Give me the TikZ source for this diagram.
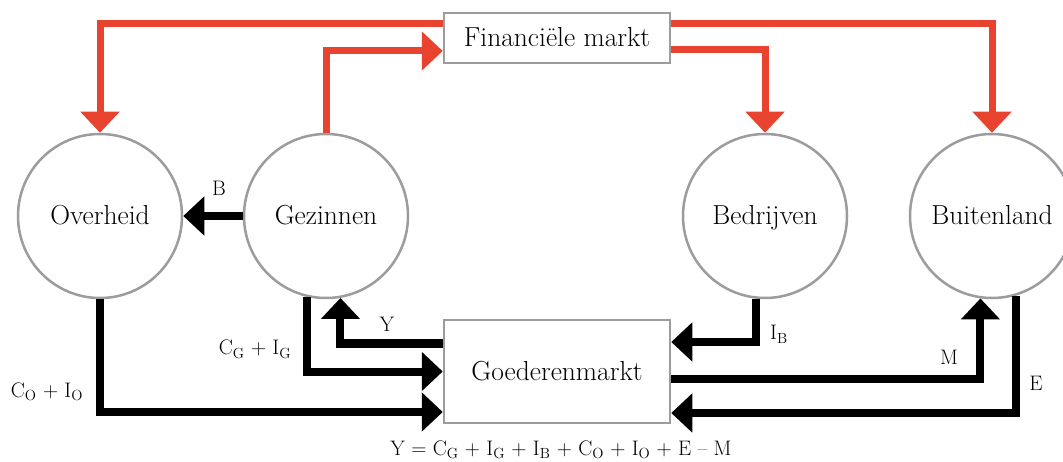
\documentclass[tikz,border=0pt]{standalone}
\usetikzlibrary{arrows.meta}
\definecolor{flowred}{RGB}{232,67,47}
\definecolor{rimgray}{RGB}{155,155,160}
\begin{document}
\begin{tikzpicture}[x=1pt,y=-1pt,
  sector/.style={circle,draw=rimgray,line width=2.5pt,minimum size=164pt,
    font=\fontsize{27.5}{30}\selectfont,text height=17pt,text depth=0pt},
  market/.style={rectangle,draw=rimgray,line width=2.5pt,fill=white,
    font=\fontsize{27.5}{30}\selectfont,text height=17pt,text depth=0pt},
  money/.style={draw=flowred,line width=7pt,-{Triangle[length=21pt,width=38pt]}},
  goods/.style={draw=black,line width=8pt,-{Triangle[length=21pt,width=38pt]}},
  lbl/.style={font=\fontsize{21}{24}\selectfont,anchor=base}]
\useasboundingbox (0,0) rectangle (1063,462);

% sectors
\node[sector] (ov) at (100,216) {Overheid};
\node[sector] (gz) at (326,216) {Gezinnen};
\node[sector] (bd) at (765,216) {Bedrijven};
\node[sector] (bl) at (992,216) {Buitenland};

% markets
\node[market,minimum width=226pt,minimum height=50pt] (fm) at (557,38) {Financi\"ele markt};
\node[market,minimum width=226pt,minimum height=103pt] (gm) at (557,371.5) {Goederenmarkt};

% money flows via the financial market
\draw[money] ([yshift=14.5pt]fm.west) -| (ov.north);
\draw[money] (gz.north) |- ([yshift=-13pt]fm.west);
\draw[money] ([yshift=-11.5pt]fm.east) -| (bd.north);
\draw[money] ([yshift=14.5pt]fm.east) -| (bl.north);

% goods flows
\draw[goods] (gz.west) -- (ov.east);
\draw[goods] (ov.south) |- ([yshift=-40.5pt]gm.west);
\draw[goods] (gz.257) |- (gm.west);
\draw[goods] ([yshift=28pt]gm.west) -| (gz.280);
\draw[goods] (bd.264) |- ([yshift=29.5pt]gm.east);
\draw[goods] ([yshift=-7.5pt]gm.east) -| (bl.262);
\draw[goods] (bl.287) |- ([yshift=-41.5pt]gm.east);

% flow labels
\node[lbl] (lb) at (219,196) {B};
\node[lbl] (lco) at (47,397) {C\textsubscript{O} + I\textsubscript{O}};
\node[lbl] (lcg) at (255,355) {C\textsubscript{G} + I\textsubscript{G}};
\node[lbl] (ly) at (387,331) {Y};
\node[lbl] (lib) at (779,340) {I\textsubscript{B}};
\node[lbl] (lm) at (949,364) {M};
\node[lbl] (le) at (1036,390) {E};
\node[lbl] (lf) at (561,455)
  {Y = C\textsubscript{G} + I\textsubscript{G} + I\textsubscript{B} + C\textsubscript{O} + I\textsubscript{O} + E -- M};
\end{tikzpicture}
\end{document}
